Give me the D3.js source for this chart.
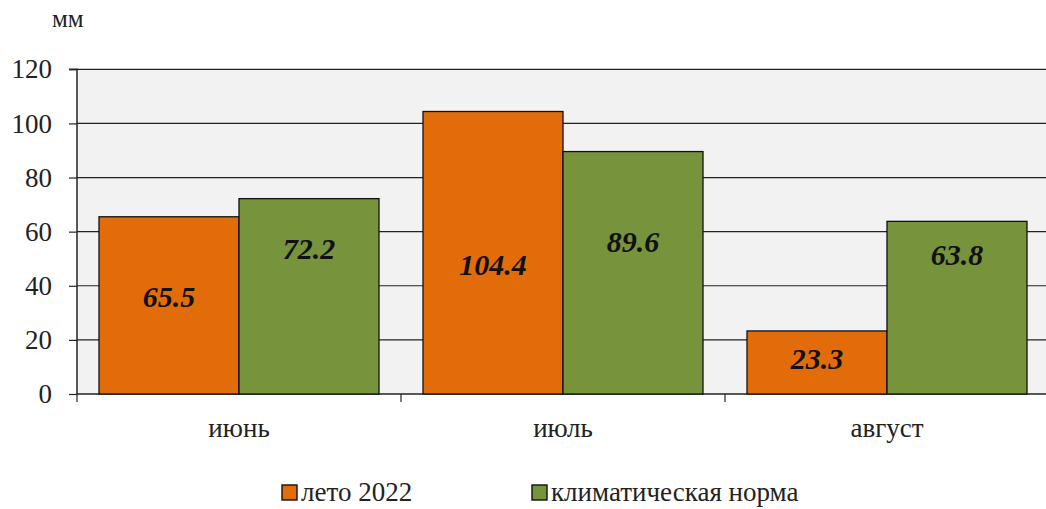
<!DOCTYPE html>
<html><head><meta charset="utf-8">
<script src="https://cdn.jsdelivr.net/npm/d3@7"></script>
<style>body{margin:0;background:#fff}svg{display:block}svg text{font-family:"Liberation Serif","Times New Roman",serif !important}</style>
</head><body>
<script>
const categories = ["июнь", "июль", "август"];
const seriesNames = ["лето 2022", "климатическая норма"];
const summer2022 = [65.5, 104.4, 23.3];
const climateNorm = [72.2, 89.6, 63.8];
const labelAtSummer = [36.2, 47.7, 13.3];
const labelAtNorm = [53.6, 56.5, 51.4];
const yTicks = [0, 20, 40, 60, 80, 100, 120];
const colors = ["#e36c0a", "#77933c"];

const W = 1046, H = 509;
const svg = d3.select("body").append("svg").attr("width", W).attr("height", H);
const x0 = 77, x1 = 1049, yTop = 69.3, yBot = 394;
const x = d3.scaleBand().domain(categories).range([x0, x1]).paddingInner(0).paddingOuter(0);
const xs = d3.scaleBand().domain([0, 1]).range([22, x.bandwidth() - 22]);
const y = d3.scaleLinear().domain([0, 120]).range([yBot, yTop]);

svg.append("rect").attr("x", x0).attr("y", yTop).attr("width", x1 - x0).attr("height", yBot - yTop).attr("fill", "#f2f2f2");

// grid
svg.append("g").selectAll("line").data(yTicks.filter(d => d > 0)).join("line")
  .attr("x1", x0).attr("x2", x1).attr("y1", d => y(d)).attr("y2", d => y(d))
  .attr("stroke", "#222").attr("stroke-width", 1.2);

// y axis
const ya = svg.append("g").attr("transform", `translate(${x0},0)`)
  .call(d3.axisLeft(y).tickValues(yTicks).tickSize(8).tickPadding(17).tickFormat(d3.format("d")));
ya.attr("font-family", null);
ya.select(".domain").attr("stroke", "#222").attr("stroke-width", 1.5).attr("d", `M-8,${yTop}H0V${yBot}`);
ya.selectAll(".tick line").attr("stroke", "#222").attr("stroke-width", 1.2);
ya.selectAll("text").style("font-size", "27px").attr("fill", "#222");

// x axis
const xa = svg.append("g").attr("transform", `translate(0,${yBot})`)
  .call(d3.axisBottom(x).tickSize(0).tickPadding(24));
xa.attr("font-family", null);
xa.select(".domain").attr("stroke", "#222").attr("stroke-width", 1.5).attr("d", `M${x0},0H${x1}`);
xa.selectAll("text").style("font-size", "27px").attr("fill", "#222");
const bounds = categories.map(c => x(c)).concat([x1]);
svg.append("g").selectAll("line").data(bounds).join("line")
  .attr("x1", d => d).attr("x2", d => d).attr("y1", yBot).attr("y2", yBot + 8)
  .attr("stroke", "#222").attr("stroke-width", 1.2);

const series = [summer2022, climateNorm];
const labelAt = [labelAtSummer, labelAtNorm];
series.forEach((vals, si) => {
  const g = svg.append("g");
  g.selectAll("rect").data(vals).join("rect")
    .attr("x", (d, i) => x(categories[i]) + xs(si))
    .attr("width", xs.bandwidth())
    .attr("y", d => y(d)).attr("height", d => yBot - y(d))
    .attr("fill", colors[si]).attr("stroke", "#111").attr("stroke-width", 1.3);
  g.selectAll("text").data(vals).join("text")
    .attr("x", (d, i) => x(categories[i]) + xs(si) + xs.bandwidth() / 2)
    .attr("y", (d, i) => y(labelAt[si][i]))
    .attr("dy", "0.35em").attr("text-anchor", "middle")
    .style("font-size", "30px").style("font-weight", "bold").style("font-style", "italic")
    .attr("fill", "#111").text(d => d.toFixed(1));
});

// unit label
svg.append("text").attr("x", 52).attr("y", 27).style("font-size", "25px")
  .attr("fill", "#222").text("мм");

// legend
const legX = [282, 532];
const lg = svg.append("g");
seriesNames.forEach((n, i) => {
  lg.append("rect").attr("x", legX[i]).attr("y", 485).attr("width", 15).attr("height", 15)
    .attr("fill", colors[i]).attr("stroke", "#111").attr("stroke-width", 1.4);
  lg.append("text").attr("x", legX[i] + 19).attr("y", 501)
    .style("font-size", "27px").attr("fill", "#222").text(n);
});
</script>
</body></html>
